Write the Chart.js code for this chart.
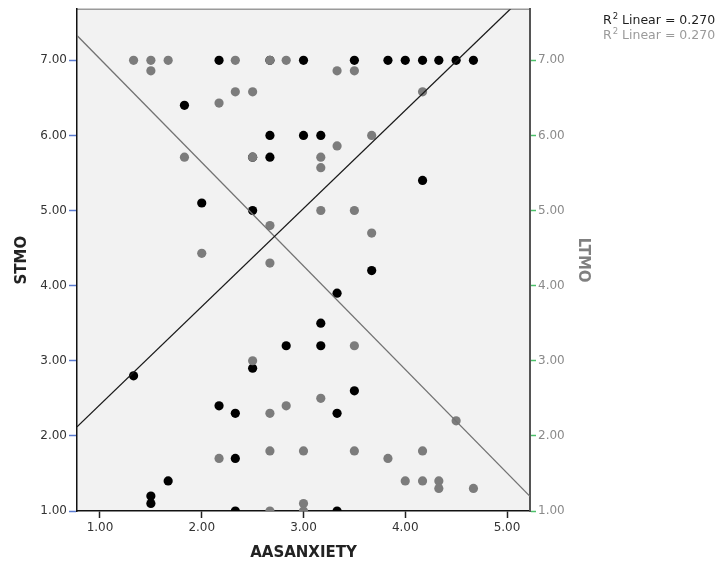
<!DOCTYPE html>
<html>
<head>
<meta charset="utf-8">
<script src="https://cdn.jsdelivr.net/npm/chart.js@4.4.1/dist/chart.umd.min.js"></script>
<style>
  html, body { margin: 0; padding: 0; background: #fff; }
  #wrap { width: 725px; height: 563px; }
</style>
</head>
<body>
<div id="wrap"><canvas id="scatter" width="725" height="563"></canvas></div>
<script>
// STMO (black) points
const stmoX = [2.17, 2.67, 3.00, 3.50, 3.83, 4.00, 4.17, 4.33, 4.50, 4.67,
               1.83, 2.67, 3.00, 3.17, 2.50, 2.67, 4.17, 2.00, 2.50, 3.67,
               3.33, 3.17, 2.83, 3.17, 2.50, 1.33, 3.50, 2.17, 2.33, 3.33,
               2.33, 1.67, 1.50, 1.50, 2.33, 3.33];
const stmoY = [7.00, 7.00, 7.00, 7.00, 7.00, 7.00, 7.00, 7.00, 7.00, 7.00,
               6.40, 6.00, 6.00, 6.00, 5.71, 5.71, 5.40, 5.10, 5.00, 4.20,
               3.90, 3.50, 3.20, 3.20, 2.90, 2.80, 2.60, 2.40, 2.30, 2.30,
               1.70, 1.40, 1.20, 1.10, 1.00, 1.00];

// LTMO (grey) points
const ltmoX = [1.33, 1.50, 1.67, 2.33, 2.67, 2.83, 1.50, 3.33, 3.50, 2.33,
               2.50, 4.17, 2.17, 3.67, 3.33, 1.83, 2.50, 3.17, 3.17, 3.17,
               3.50, 2.67, 3.67, 2.00, 2.67, 3.50, 2.50, 3.17, 2.83, 2.67,
               4.50, 2.67, 3.00, 3.50, 4.17, 2.17, 3.83, 4.00, 4.17, 4.33,
               4.33, 4.67, 3.00, 2.67, 3.00];
const ltmoY = [7.00, 7.00, 7.00, 7.00, 7.00, 7.00, 6.86, 6.86, 6.86, 6.58,
               6.58, 6.58, 6.43, 6.00, 5.86, 5.71, 5.71, 5.71, 5.57, 5.00,
               5.00, 4.80, 4.70, 4.43, 4.30, 3.20, 3.00, 2.50, 2.40, 2.30,
               2.20, 1.80, 1.80, 1.80, 1.80, 1.70, 1.70, 1.40, 1.40, 1.40,
               1.30, 1.30, 1.10, 1.00, 1.00];

// fit lines
const fitIntercept = [1.109, 8.397];
const fitSlope = [1.306, -1.378];
const r2Values = ["0.270", "0.270"];

const xRange = [0.774, 5.226];
const yRange = [1.0, 7.68];
const xTicks = [1, 2, 3, 4, 5];
const yTicks = [1, 2, 3, 4, 5, 6, 7];

const FONT = "DejaVu Sans";

function toPoints(xs, ys) {
    return xs.map((x, i) => ({ x: x, y: ys[i] }));
}

function fitPoints(k) {
    return xRange.map(x => ({ x: x, y: fitIntercept[k] + fitSlope[k] * x }));
}

const plotBackground = {
    id: "plotBackground",
    beforeDraw(chart) {
        const { ctx, chartArea: a } = chart;
        ctx.save();
        ctx.fillStyle = "#f2f2f2";
        ctx.fillRect(a.left, a.top, a.right - a.left, a.bottom - a.top);
        ctx.strokeStyle = "#9a9a9a";
        ctx.lineWidth = 1.5;
        ctx.beginPath();
        ctx.moveTo(a.left, a.top);
        ctx.lineTo(a.right, a.top);
        ctx.stroke();
        ctx.restore();
    }
};

const fitLegend = {
    id: "fitLegend",
    afterDraw(chart) {
        const ctx = chart.ctx;
        const colors = ["#1e1e1e", "#9a9a9a"];
        ctx.save();
        ctx.textBaseline = "middle";
        r2Values.forEach((v, i) => {
            let x = 603;
            const y = 21 + i * 15;
            ctx.fillStyle = colors[i];
            ctx.font = "12.5px '" + FONT + "'";
            ctx.fillText("R", x, y);
            x += ctx.measureText("R").width + 1;
            ctx.font = "8.5px '" + FONT + "'";
            ctx.fillText("2", x, y - 4);
            x += ctx.measureText("2").width;
            ctx.font = "12.5px '" + FONT + "'";
            ctx.fillText(" Linear = " + v, x, y);
        });
        ctx.restore();
    }
};

new Chart(document.getElementById("scatter"), {
    type: "scatter",
    data: {
        datasets: [
            {
                label: "STMO fit",
                data: fitPoints(0),
                showLine: true,
                pointRadius: 0,
                borderColor: "#1a1a1a",
                borderWidth: 1.3,
                order: 0
            },
            {
                label: "LTMO fit",
                data: fitPoints(1),
                showLine: true,
                pointRadius: 0,
                borderColor: "#727272",
                borderWidth: 1.3,
                yAxisID: "y2",
                order: 0
            },
            {
                label: "LTMO",
                data: toPoints(ltmoX, ltmoY),
                pointRadius: 4.6,
                pointBorderWidth: 0,
                backgroundColor: "#7c7c7c",
                borderColor: "#7c7c7c",
                yAxisID: "y2",
                order: 1
            },
            {
                label: "STMO",
                data: toPoints(stmoX, stmoY),
                pointRadius: 4.6,
                pointBorderWidth: 0,
                backgroundColor: "#000000",
                borderColor: "#000000",
                order: 2
            }
        ]
    },
    options: {
        responsive: false,
        animation: false,
        events: [],
        layout: { padding: { top: 9, right: 130, left: 0, bottom: 0 } },
        plugins: {
            legend: { display: false },
            tooltip: { enabled: false }
        },
        scales: {
            x: {
                type: "linear",
                min: xRange[0],
                max: xRange[1],
                afterBuildTicks: s => { s.ticks = xTicks.map(v => ({ value: v })); },
                afterFit: s => { s.height = 52; },
                grid: { drawOnChartArea: false, drawTicks: true, tickLength: 7, tickWidth: 1.5, color: "#222" },
                border: { display: true, color: "#111", width: 1.5 },
                ticks: {
                    padding: 3,
                    color: "#333",
                    font: { family: FONT, size: 12 },
                    callback: v => v.toFixed(2)
                },
                title: {
                    display: true,
                    text: "AASANXIETY",
                    color: "#222",
                    font: { family: FONT, size: 15, weight: "bold" },
                    padding: { top: 0, bottom: 1 }
                }
            },
            y: {
                position: "left",
                min: yRange[0],
                max: yRange[1],
                afterBuildTicks: s => { s.ticks = yTicks.map(v => ({ value: v })); },
                afterFit: s => { s.width = 77; },
                grid: { drawOnChartArea: false, drawTicks: true, tickLength: 8, tickWidth: 1.5, color: "#5a7bd0" },
                border: { display: true, color: "#111", width: 1.5 },
                ticks: {
                    padding: 2,
                    color: "#333",
                    font: { family: FONT, size: 12 },
                    callback: v => v.toFixed(2)
                },
                title: {
                    display: true,
                    text: "STMO",
                    color: "#222",
                    font: { family: FONT, size: 15, weight: "bold" },
                    padding: { top: 13, bottom: 0 }
                }
            },
            y2: {
                position: "right",
                min: yRange[0],
                max: yRange[1],
                afterBuildTicks: s => { s.ticks = yTicks.map(v => ({ value: v })); },
                afterFit: s => { s.width = 65; },
                grid: { drawOnChartArea: false, drawTicks: true, tickLength: 6, tickWidth: 1.5, color: "#4cc06a" },
                border: { display: true, color: "#555", width: 2 },
                ticks: {
                    padding: 2,
                    color: "#8a8a8a",
                    font: { family: FONT, size: 12 },
                    callback: v => v.toFixed(2)
                },
                title: {
                    display: true,
                    text: "LTMO",
                    color: "#808080",
                    font: { family: FONT, size: 15, weight: "bold" },
                    padding: { top: 3, bottom: 0 }
                }
            }
        }
    },
    plugins: [plotBackground, fitLegend]
});
</script>
</body>
</html>
